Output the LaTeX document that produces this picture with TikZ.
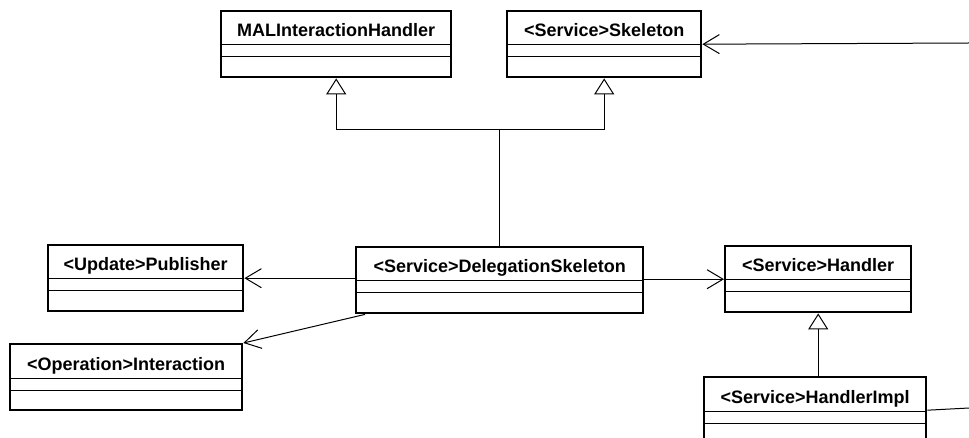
\documentclass[tikz,border=0pt]{standalone}
\usepackage{fontspec}
\setmainfont{Liberation Sans}
\usetikzlibrary{                          % TikZ libraries
                calc,                     % .
                arrows.meta}

\begin{document}
\begin{tikzpicture}[x=1pt,y=-1pt]
                % define styles
\tikzset{umlclass/.style={rectangle,
                       draw=black,
                       line width=2.4pt,
                       anchor=north west,
                       inner sep=0,
                       minimum height=66pt,
                       },
         umltitle/.style={anchor=base,
                       inner sep=0,
                       font=\bfseries\fontsize{18}{20}\selectfont,
                       },
         umlsep/.style={line width=1pt},
         assoc/.style={line width=1pt,
                       -{Straight Barb[length=16pt,width=19pt,line width=1pt]}},
         inherits/.style={line width=1pt,
                       -{Triangle[open,length=16pt,width=20pt,line width=1pt,fill=white]}}
}

\clip (0,0) rectangle (969,438);
\fill[white] (0,0) rectangle (969,438);

% classes
\foreach \name/\x/\y/\w/\title in {mal/220/10/230/MALInteractionHandler,
                                   skel/506/10/194/<Service>Skeleton,
                                   pub/47/244/195/<Update>Publisher,
                                   deleg/355/246/287/<Service>DelegationSkeleton,
                                   inter/9/343/232/<Operation>Interaction,
                                   handler/724/245/186/<Service>Handler,
                                   himpl/703/376/222/<Service>HandlerImpl}
{
    \node[umlclass, minimum width=\w pt] (\name) at (\x,\y) {};
    \node[umltitle] (\name-t) at ($(\name.north)+(0,27)$) {\title};
    \draw[umlsep] ($(\name.north west)+(0,35)$) -- ($(\name.north east)+(0,35)$);
    \draw[umlsep] ($(\name.north west)+(0,47)$) -- ($(\name.north east)+(0,47)$);
}

% generalizations
\coordinate (fork) at ($(deleg.north)+(0,-116)$);
\draw[inherits] (deleg.north) -- (fork) -| (mal.south);
\draw[inherits] (fork) -| (skel.south);
\draw[inherits] (himpl.north -| handler.south) -- (handler.south);

% associations
\draw[assoc] (deleg.west |- pub.east) -- (pub.east);
\draw[assoc] (deleg.east |- handler.west) -- (handler.west);
\draw[assoc] ($(deleg.south west)+(10,0)$) -- (inter.north east);

% links leaving the picture
\coordinate (skelin) at (969,43);
\coordinate (implout) at (969,408);
\draw[assoc] (skelin) -- (skel.east);
\draw[umlsep] (himpl.east) -- (implout);

\end{tikzpicture}
\end{document}
